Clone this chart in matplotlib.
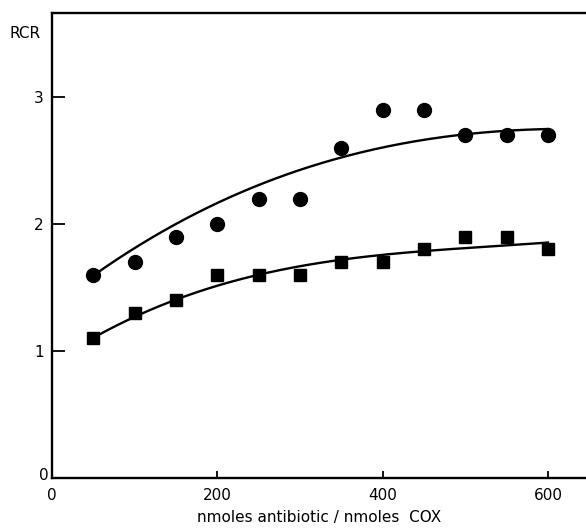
import matplotlib
matplotlib.use('Agg')
import matplotlib.pyplot as plt
import numpy as np

# measured points
dose = [50, 100, 150, 200, 250, 300, 350, 400, 450, 500, 550, 600]
rcr_circ = [1.6, 1.7, 1.9, 2.0, 2.2, 2.2, 2.6, 2.9, 2.9, 2.7, 2.7, 2.7]
rcr_sq = [1.1, 1.3, 1.4, 1.6, 1.6, 1.6, 1.7, 1.7, 1.8, 1.9, 1.9, 1.8]

# points
curve_x = [50, 100, 150, 200, 250, 324, 348, 400, 500, 600]
curve_circ = [1.60, 1.80, 2.00, 2.17, 2.31, 2.47, 2.52, 2.61, 2.70, 2.75]
curve_sq_x = [50, 100, 150, 200, 250, 300, 350, 400, 500, 600]
curve_sq = [1.10, 1.27, 1.41, 1.52, 1.60, 1.66, 1.71, 1.76, 1.82, 1.85]

xticks = [0, 200, 400, 600]
xticklabels = ['0', '200', '400', '600']
yticks = [1, 2, 3]

fig = plt.figure(figsize=(5.86, 5.32), dpi=100)
ax = fig.add_axes([52/586, 1-478/532, 1-52/586, (478-13)/532])

# smooth the read curves
xs = np.linspace(50, 600, 200)
pc = np.polyfit(curve_x, curve_circ, 3)
ps = np.polyfit(curve_sq_x, curve_sq, 3)
ax.plot(xs, np.polyval(pc, xs), 'k-', lw=1.7)
ax.plot(xs, np.polyval(ps, xs), 'k-', lw=1.7)

ax.plot(dose, rcr_circ, 'ko', ms=10, clip_on=False)
ax.plot(dose, rcr_sq, 'ks', ms=9, clip_on=False)

ax.set_xlim(0, 646)
ax.set_ylim(0, 478/127 - 13/127)
ax.spines['right'].set_visible(False)
for s in ['left', 'bottom', 'top']:
    ax.spines[s].set_linewidth(1.7)

ax.set_xticks(xticks)
ax.set_xticklabels(xticklabels, fontsize=11)
ax.set_yticks(yticks)
ax.set_yticklabels([str(v) for v in yticks], fontsize=11)
ax.tick_params(axis='x', direction='in', length=5, width=1.3, pad=7)
ax.tick_params(axis='y', direction='in', length=9, width=1.3, pad=6)

# y zero label sits just above the corner
ax.text(-4, 0.02, '0', ha='right', va='center', fontsize=11, transform=ax.transData)

ax.set_xlabel('nmoles antibiotic / nmoles  COX', fontsize=11, labelpad=5)
fig.text(25/586, 1-33/532, 'RCR', ha='center', va='center', fontsize=11)

fig.savefig('out.png', dpi=100)
